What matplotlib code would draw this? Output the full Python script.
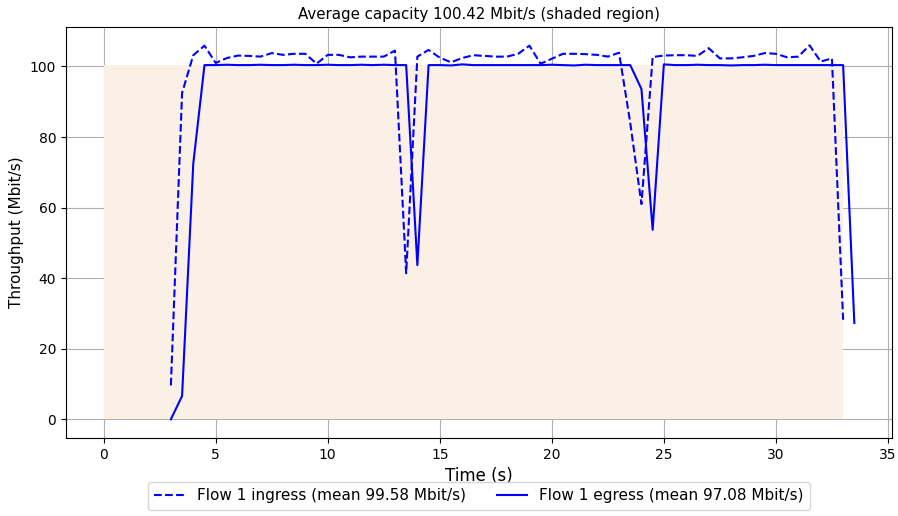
import numpy as np
from matplotlib import pyplot as plt

# throughput samples every 0.5 s
ingress_t = np.arange(3.0, 33.01, 0.5)
ingress_mbps = [9.6, 92.5, 103.2, 105.9, 101.0, 102.4, 103.1, 103.0, 102.8, 103.8,
                103.3, 103.6, 103.6, 100.8, 103.3, 103.3, 102.6, 102.8, 102.8, 102.8,
                104.5, 41.4, 102.8, 104.7, 102.5, 101.2, 102.4, 103.2, 103.0, 102.8,
                102.8, 103.6, 105.9, 100.8, 102.2, 103.6, 103.6, 103.5, 103.3, 102.8,
                103.9, 84.0, 61.0, 102.7, 103.1, 103.2, 103.2, 103.0, 105.2, 102.3,
                102.3, 102.6, 103.0, 103.8, 103.6, 102.6, 102.8, 106.0, 101.4, 102.3,
                28.2]

egress_t = np.arange(3.0, 33.51, 0.5)
egress_mbps = [0.0, 6.6, 72.5, 100.4, 100.4, 100.5, 100.4, 100.4, 100.5, 100.4,
               100.4, 100.5, 100.4, 100.4, 100.5, 100.4, 100.4, 100.5, 100.4, 100.5,
               100.4, 100.4, 43.7, 100.4, 100.4, 100.3, 100.6, 100.4, 100.4, 100.4,
               100.4, 100.4, 100.4, 100.4, 100.5, 100.4, 100.3, 100.5, 100.4, 100.4,
               100.4, 100.4, 93.6, 53.7, 100.6, 100.4, 100.4, 100.5, 100.4, 100.4,
               100.3, 100.4, 100.4, 100.5, 100.4, 100.4, 100.4, 100.4, 100.4, 100.4,
               100.4, 27.3]

capacity_t = [0.0, 33.0]
capacity_mbps = [100.42, 100.42]


def main():
    fig = plt.figure(figsize=(8.98, 5.16), dpi=100)
    ax = fig.add_axes([0.0735, 0.1512, 0.9198, 0.7965])

    ax.fill_between(capacity_t, 0, capacity_mbps, facecolor='linen', edgecolor='none')
    ax.plot(ingress_t, ingress_mbps, 'b--', lw=1.5, label='Flow 1 ingress (mean 99.58 Mbit/s)')
    ax.plot(egress_t, egress_mbps, 'b-', lw=1.5, label='Flow 1 egress (mean 97.08 Mbit/s)')

    ax.set_xlim(-1.68, 35.18)
    ax.set_ylim(-5.3, 111.2)
    ax.grid(True, color='#b0b0b0', lw=0.8)
    ax.set_axisbelow(True)

    ax.set_title('Average capacity 100.42 Mbit/s (shaded region)', fontsize=10.8)
    ax.set_xlabel('Time (s)', fontsize=12)
    ax.set_ylabel('Throughput (Mbit/s)', fontsize=11)
    ax.legend(loc='upper center', bbox_to_anchor=(0.5, -0.108), ncol=2,
              fontsize=11, borderaxespad=0, fancybox=True)

    fig.savefig('out.png', dpi=100)


if __name__ == "__main__":
    main()
